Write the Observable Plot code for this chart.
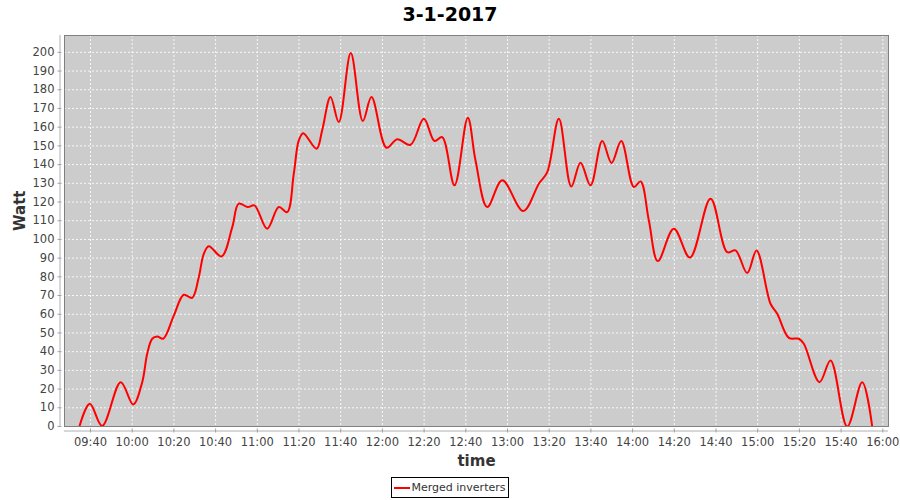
<!DOCTYPE html>
<html>
<head>
<meta charset="utf-8">
<script src="https://cdn.jsdelivr.net/npm/d3@7"></script>
<script src="https://cdn.jsdelivr.net/npm/@observablehq/plot@0.6"></script>
<style>
  html, body { margin: 0; padding: 0; background: #fff; }
  body { width: 900px; height: 500px; overflow: hidden; font-family: "DejaVu Sans", sans-serif; }
  #title { height: 28px; line-height: 28px; text-align: center; font-weight: bold; font-size: 19px; color: #000; }
  #chart svg { display: block; }
  #legend { display: flex; justify-content: center; margin-top: 5px; }
  #legend .box { display: flex; align-items: center; border: 1px solid #000; height: 19px; padding: 0 3px 0 2px; font-size: 11px; color: #333; box-sizing: content-box; }
  #legend .sw { display: inline-block; width: 16px; height: 2px; background: #ff0000; margin-right: 2px; }
</style>
</head>
<body>
<div id="title">3-1-2017</div>
<div id="chart"></div>
<div id="legend"><div class="box"><span class="sw"></span><span id="legend-label"></span></div></div>
<script>
const seriesName = "Merged inverters";
const times = [
  "09:34:42","09:39:40","09:45:36","09:54:30","10:00:30","10:04:48","10:07:12","10:09:36","10:12:00","10:14:52",
  "10:20:00","10:24:44","10:28:46","10:31:56","10:34:20","10:36:44","10:42:50","10:48:00","10:51:06","10:55:27",
  "10:58:39","11:04:44","11:10:18","11:14:19","11:17:30","11:19:54","11:22:00","11:28:24","11:31:07","11:35:06",
  "11:39:05","11:44:50","11:50:36","11:54:46","12:01:58","12:07:06","12:13:29","12:19:52","12:25:00","12:28:41",
  "12:34:35","12:40:57","12:44:40","12:50:18","12:57:29","13:07:33","13:15:02","13:19:04","13:24:38","13:30:34",
  "13:35:01","13:39:49","13:45:26","13:49:54","13:54:33","14:00:36","14:03:49","14:07:47","14:12:06","14:19:47",
  "14:27:30","14:37:24","14:45:22","14:49:22","14:54:58","14:59:26","15:06:09","15:09:22","15:14:56","15:19:44",
  "15:22:08","15:29:39","15:34:56","15:42:55","15:50:07","15:54:55"
];
const watts = [
  0, 12.1, 0.3, 23.7, 11.8, 23.7, 38.9, 46.9, 48.1, 46.9,
  59.4, 70.4, 68.8, 79.8, 92.3, 96.4, 90.9, 106.6, 119.1, 117.3,
  118.2, 105.7, 117.3, 114.6, 135.1, 152.9, 156.8, 148.5, 158.3, 176.1,
  162.7, 199.6, 163.3, 176.1, 149, 153.5, 150.6, 164.5, 152.6, 154.7,
  128.9, 165.1, 142.2, 117.3, 131.6, 115.2, 129.8, 136, 164.5, 128.3,
  141, 128.9, 152.6, 140.9, 152.6, 128, 131, 110.2, 88.4, 105.7,
  90.3, 121.8, 93.2, 94.1, 82, 94.1, 65.6, 60.3, 47.4, 46.9,
  44.2, 23.7, 35.3, 0, 23.7, 0
];
const xDomain = ["09:27:32", "16:02:44"];
const yDomain = [0, 209];
const yTicks = d3.range(0, 201, 10);
const xLabel = "time";
const yLabel = "Watt";

const parse = s => new Date(`2017-01-03T${s}Z`);
const data = times.map((t, i) => ({time: parse(t), watt: watts[i]}));
const xd = xDomain.map(parse);

const chart = Plot.plot({
  width: 900,
  height: 444,
  marginTop: 7,
  marginBottom: 46,
  marginLeft: 64,
  marginRight: 12,
  style: {fontFamily: "DejaVu Sans, sans-serif", fontSize: "11.5px", color: "#444", background: "#fff", overflow: "visible"},
  x: {type: "utc", domain: xd, ticks: d3.utcMinute.every(20), tickFormat: d3.utcFormat("%H:%M")},
  y: {domain: yDomain, ticks: yTicks},
  marks: [
    Plot.frame({fill: "#cccccc", stroke: null}),
    Plot.gridX({ticks: d3.utcMinute.every(20), stroke: "#ffffff", strokeOpacity: 0.85, strokeDasharray: "2,2"}),
    Plot.gridY(yTicks, {stroke: "#ffffff", strokeOpacity: 0.85, strokeDasharray: "2,2"}),
    Plot.line(data, {x: "time", y: "watt", stroke: "#ff0000", strokeWidth: 2, curve: "catmull-rom", clip: true}),
    Plot.frame({stroke: "#808080", strokeWidth: 1}),
    Plot.ruleY([yDomain[0]], {dy: 4.5, stroke: "#b0b0b0"}),
    Plot.ruleX([xd[0]], {dx: -4.5, stroke: "#b0b0b0"}),
    Plot.axisX({ticks: d3.utcMinute.every(20), tickFormat: d3.utcFormat("%H:%M"), tickSize: 4, dy: 2.5, tickPadding: 5, label: null, stroke: "#a0a0a0", fill: "#444"}),
    Plot.axisY(yTicks, {tickSize: 4, dx: -2.5, tickPadding: 3.5, label: null, stroke: "#a0a0a0", fill: "#444"}),
    Plot.text([xLabel], {text: d => d, frameAnchor: "bottom", dy: 39, fontWeight: "bold", fontSize: 15, fill: "#333"}),
    Plot.text([yLabel], {text: d => d, frameAnchor: "left", dx: -44, rotate: -90, fontWeight: "bold", fontSize: 15, fill: "#333"})
  ]
});
document.getElementById("chart").appendChild(chart);
document.getElementById("legend-label").textContent = seriesName;
</script>
</body>
</html>
